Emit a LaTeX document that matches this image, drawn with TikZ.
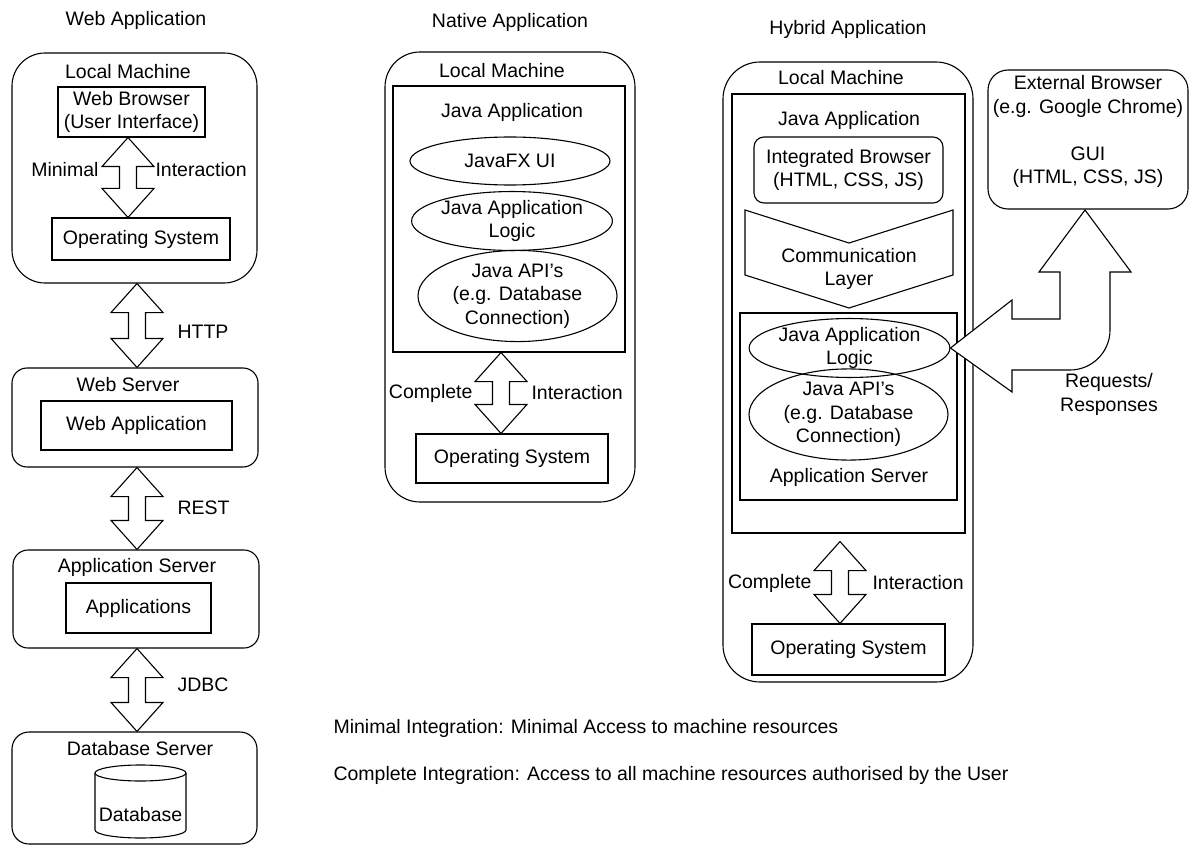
\documentclass[tikz,border=0pt]{standalone}
\usepackage{fontspec}
\setmainfont{Liberation Sans}
\usetikzlibrary{shapes.geometric}
\usetikzlibrary{calc}
\tikzset{frame/.style = {draw, inner sep = 0, align = center}}
\tikzset{oval/.style = {frame, ellipse}}
\tikzset{lbl/.style = {inner sep = 0, align = center}}
\tikzset{fatarrow/.style = {draw, fill = white, line join = miter}}
% vertical double block arrow: x, top end, bottom end
\newcommand{\dblarrow}[3]{%
  \draw[fatarrow] let \p1 = (#2), \p2 = (#3) in
    (#1pt,\y1) -- (#1pt+26pt,\y1-29pt) -- (#1pt+8.5pt,\y1-29pt)
    -- (#1pt+8.5pt,\y2+29pt) -- (#1pt+26pt,\y2+29pt) -- (#1pt,\y2)
    -- (#1pt-26pt,\y2+29pt) -- (#1pt-8.5pt,\y2+29pt)
    -- (#1pt-8.5pt,\y1-29pt) -- (#1pt-26pt,\y1-29pt) -- cycle;
}

\begin{document}
\begin{tikzpicture}[x=1pt, y=-1pt, line width=1.1pt,
    font=\fontsize{19.5}{23.5}\selectfont]
    \useasboundingbox (0,0) rectangle (1191,845);

    % web application
    \node[lbl] (tweb) at (136,20) {Web Application};
    \node[frame, rounded corners=33, minimum width=245, minimum height=230] (lmweb) at (134.5,168) {};
    \node[lbl] (lmwebt) at (128,72) {Local Machine};
    \node[frame, minimum width=147, minimum height=50] (browser) at (131.5,112) {Web Browser\\(User Interface)};
    \node[frame, minimum width=178, minimum height=42] (osweb) at (141,239) {Operating System};
    \dblarrow{128}{browser.south}{osweb.north}
    \node[lbl, anchor=east] (minimal) at (99,170) {Minimal};
    \node[lbl, anchor=west] (interw) at (155,170) {Interaction};

    \node[frame, rounded corners=15, minimum width=246, minimum height=99] (wserver) at (135,417.5) {};
    \node[lbl] (wservert) at (128,385) {Web Server};
    \node[frame, minimum width=191, minimum height=49] (webapp) at (136.5,425.5) {Web Application};
    \dblarrow{137}{lmweb.south}{wserver.north}
    \node[lbl, anchor=west] (http) at (177,332) {HTTP};

    \node[frame, rounded corners=15, minimum width=246, minimum height=98] (aserver) at (136,599) {};
    \node[lbl] (aservert) at (137,567) {Application Server};
    \node[frame, minimum width=145, minimum height=50] (apps) at (138.5,608) {Applications};
    \dblarrow{137}{wserver.south}{aserver.north}
    \node[lbl, anchor=west] (rest) at (177,508) {REST};

    \node[frame, rounded corners=17, minimum width=245, minimum height=112] (dbserver) at (134.5,788) {};
    \node[lbl] (dbservert) at (140,749) {Database Server};
    \dblarrow{137}{aserver.south}{dbserver.north}
    \node[lbl, anchor=west] (jdbc) at (177,685) {JDBC};
    \draw (95,773) -- (95,830) arc[start angle=180, end angle=0, x radius=45.5, y radius=8] -- (186,773);
    \draw[fill=white] (140.5,773) ellipse[x radius=45.5, y radius=8];
    \node[lbl] (db) at (140.5,815) {Database};

    % native application
    \node[lbl] (tnative) at (510,22) {Native Application};
    \node[frame, rounded corners=35, minimum width=250, minimum height=450] (lmnat) at (510,277) {};
    \node[lbl] (lmnatt) at (502,71) {Local Machine};
    \node[frame, minimum width=232, minimum height=266] (janat) at (509,219) {};
    \node[lbl] (janatt) at (512,112) {Java Application};
    \node[oval, minimum width=200, minimum height=48] (fxui) at (510,161) {JavaFX UI};
    \node[oval, minimum width=192, minimum height=48] (logicnat) at (512,221) {Java Application\\Logic};
    \node[oval, minimum width=199, minimum height=75] (apinat) at (517.5,296) {Java API's\\(e.g. Database\\Connection)};
    \node[frame, minimum width=192, minimum height=49] (osnat) at (512,458.5) {Operating System};
    \dblarrow{501}{janat.south}{osnat.north}
    \node[lbl, anchor=east] (compnat) at (473,393) {Complete};
    \node[lbl, anchor=west] (internat) at (531,393) {Interaction};

    % hybrid application
    \node[lbl] (thybrid) at (848,29) {Hybrid Application};
    \node[frame, rounded corners=37, minimum width=250, minimum height=620] (lmhyb) at (848,372) {};
    \node[lbl] (lmhybt) at (841,78) {Local Machine};
    \node[frame, minimum width=233, minimum height=439] (jahyb) at (848.5,313.5) {};
    \node[lbl] (jahybt) at (849,120) {Java Application};
    \node[frame, rounded corners=10, minimum width=189, minimum height=66] (ibrowser) at (848.5,170) {Integrated Browser\\(HTML, CSS, JS)};
    \draw (745,210) -- (849,243) -- (953,210) -- (953,275) -- (849,308) -- (745,275) -- cycle;
    \node[lbl] (comm) at (849,269) {Communication\\Layer};
    \node[frame, minimum width=217, minimum height=187] (ashyb) at (848.5,406.5) {};
    \node[oval, minimum width=197, minimum height=50] (logichyb) at (849.5,348) {Java Application\\Logic};
    \node[oval, minimum width=199, minimum height=75] (apihyb) at (848.5,414.5) {Java API's\\(e.g. Database\\Connection)};
    \node[lbl] (ashybt) at (849,477) {Application Server};
    \node[frame, minimum width=193, minimum height=51] (oshyb) at (848.5,649.5) {Operating System};
    \dblarrow{840}{$(jahyb.south)+(0,8)$}{oshyb.north}
    \node[lbl, anchor=east] (comphyb) at (812,583) {Complete};
    \node[lbl, anchor=west] (interhyb) at (872,583) {Interaction};

    % external browser
    \node[frame, rounded corners=20, minimum width=200, minimum height=139] (ext) at (1088,139.5) {};
    \node[lbl] (extt) at (1088,131.5) {External Browser\\(e.g. Google Chrome)\\[23.5pt]GUI\\(HTML, CSS, JS)};
    \draw[fatarrow] (logichyb.east) -- (1012,300) -- (1012,319) -- (1060,319) -- (1060,272)
      -- (1039,272) -- (1085,210) -- (1131,272) -- (1110,272) -- (1110,330)
      .. controls (1110,352) and (1092,370) .. (1070,370) -- (1012,370) -- (1012,392) -- cycle;
    \node[lbl] (reqs) at (1109,394.5) {Requests/\\Responses};

    % notes
    \node[lbl, anchor=west] (note1) at (333,728) {Minimal Integration: Minimal Access to machine resources};
    \node[lbl, anchor=west] (note2) at (333,775) {Complete Integration: Access to all machine resources authorised by the User};
\end{tikzpicture}
\end{document}
